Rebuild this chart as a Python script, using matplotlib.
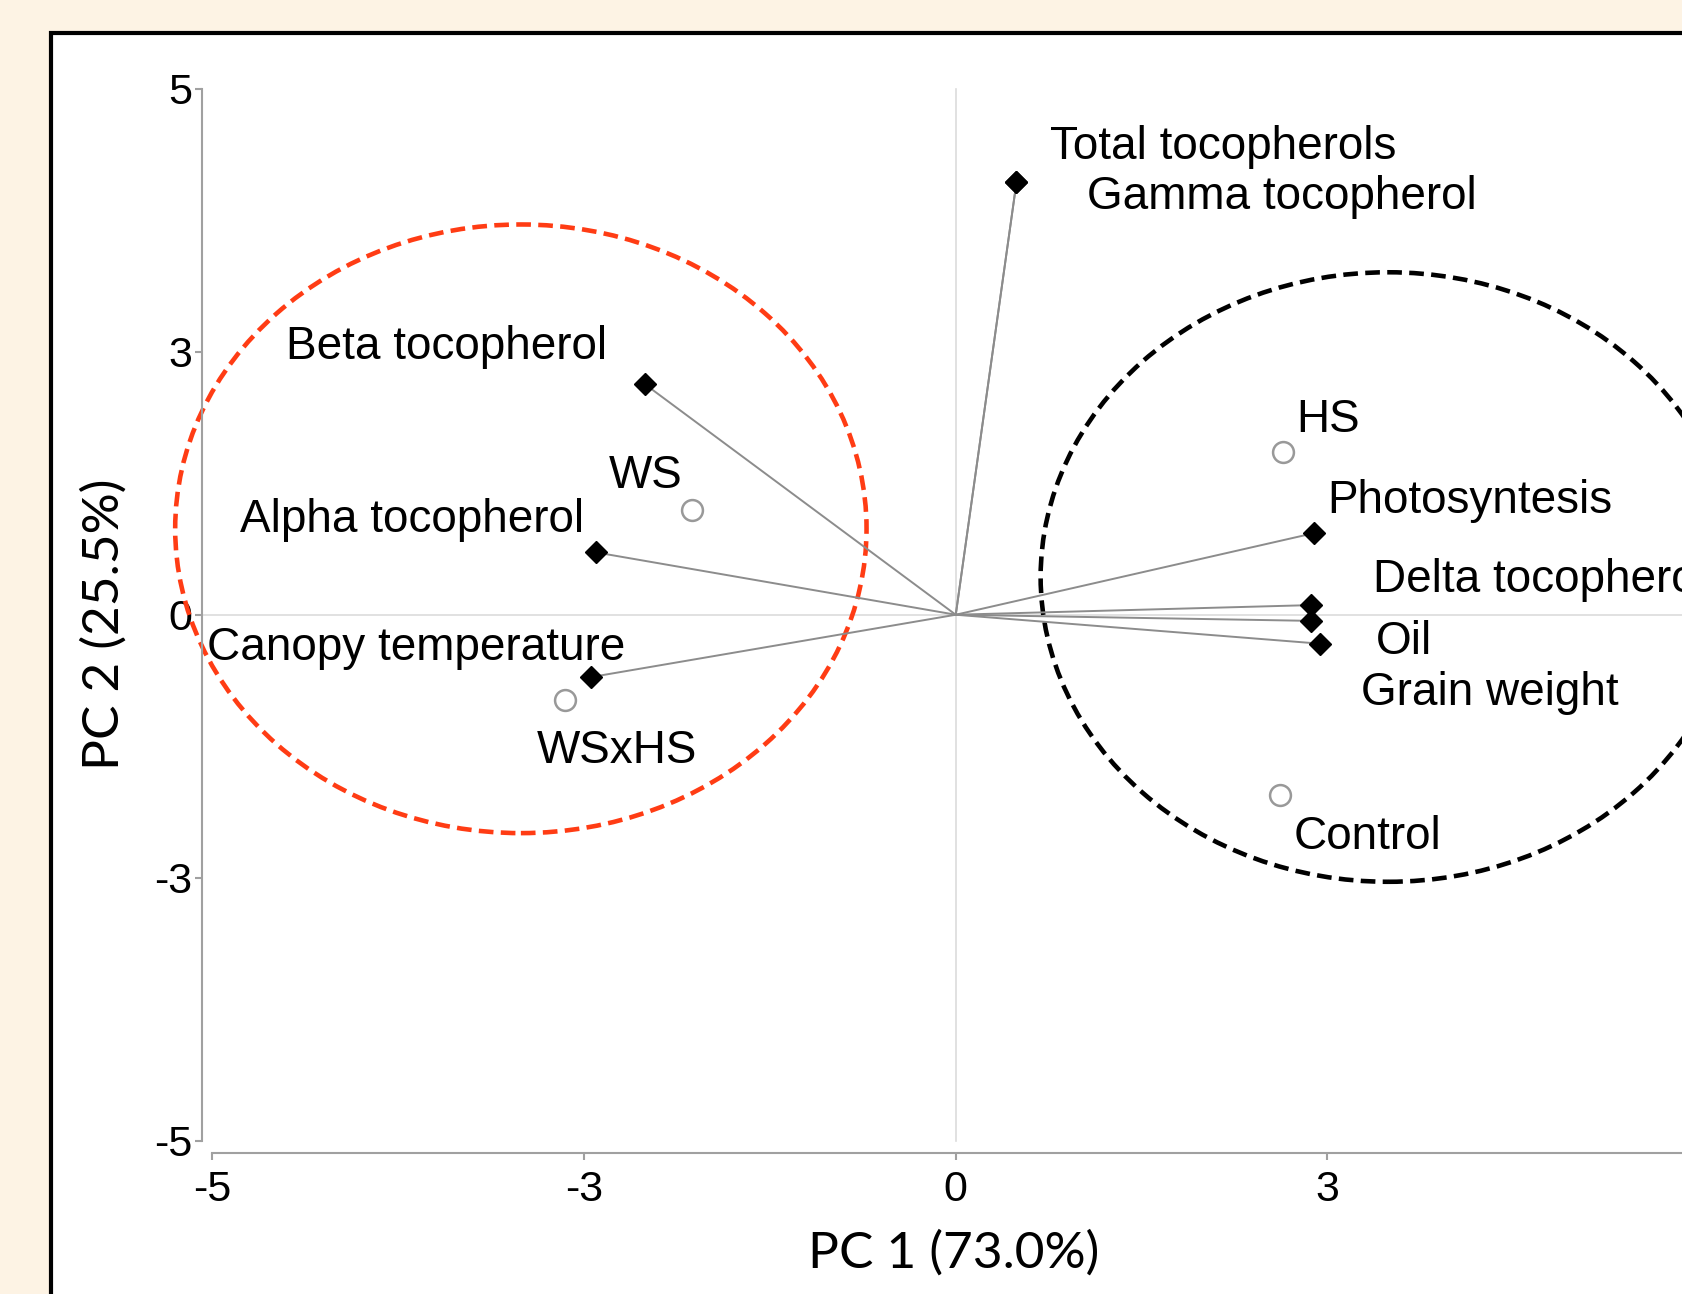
import numpy as np
import matplotlib
matplotlib.use("Agg")
import matplotlib.pyplot as plt
from matplotlib.patches import Ellipse, Rectangle

# variables (black diamonds, vectors from origin)
var_names = ["Total tocopherols", "Gamma tocopherol", "Beta tocopherol", "Alpha tocopherol",
             "Canopy temperature", "Photosyntesis", "Delta tocopherol", "Oil", "Grain weight"]
var_x = [0.49, 0.49, -2.51, -2.90, -2.94, 2.89, 2.87, 2.87, 2.94]
var_y = [4.93, 4.93, 2.63, 0.71, -0.71, 0.93, 0.11, -0.07, -0.33]

# treatments (open circles)
trt_names = ["HS", "WS", "WSxHS", "Control"]
trt_x = [2.64, -2.13, -3.15, 2.62]
trt_y = [1.86, 1.19, -0.97, -2.06]

# group ellipses: centre x, centre y, width, height
ell_cx = [-3.51, 3.49]
ell_cy = [0.98, 0.43]
ell_w = [5.58, 5.61]
ell_h = [6.94, 6.95]
ell_col = ["#ff3c14", "black"]

xtick_pos = [-6, -3, 0, 3]
xtick_lab = ["-5", "-3", "0", "3"]
ytick_pos = [-6, -3, 0, 3, 6]
ytick_lab = ["-5", "-3", "0", "3", "5"]

# label offsets in pixels (dx, dy up) from each mark
var_off = [(34, 35), (71, -15), (-359, 37), (-356, 32), (-384, 29), (13, 32), (62, 25), (65, -21), (41, -49)]
trt_off = [(13, 32), (-83, 34), (-29, -51), (13, -42)]

DPI = 100
fig = plt.figure(figsize=(16.82, 12.94), dpi=DPI, facecolor="#fdf3e4")
W, H = 1682, 1294
# white panel
fig.patches.append(Rectangle((51 / W, -0.1), 1.2, 1 - 33 / H + 0.1, transform=fig.transFigure,
                             facecolor="white", edgecolor="black", linewidth=3, zorder=-1))

ax = fig.add_axes([201.7 / W, 0.1090, 1560 / W, 0.8404])
ax.set_zorder(2)
ax.set_facecolor("none")
ax.set_xlim(-6.086, -6.086 + 1560 / 123.9)
ax.set_ylim(-6.137, -6.137 + 0.8404 * H / 87.7)

for s in ["top", "right"]:
    ax.spines[s].set_visible(False)
for s in ["left", "bottom"]:
    ax.spines[s].set_color("#a0a0a0")
    ax.spines[s].set_linewidth(1.5)
ax.spines["left"].set_bounds(-6, 6)
ax.spines["bottom"].set_bounds(-6, 7)

ax.set_xticks(xtick_pos, xtick_lab)
ax.set_yticks(ytick_pos, ytick_lab)
ax.tick_params(colors="#a0a0a0", labelcolor="black", length=5, width=1.5, labelsize=31)
ax.tick_params(axis="x", pad=7)
ax.tick_params(axis="y", pad=2)
for lab in ax.get_xticklabels() + ax.get_yticklabels():
    lab.set_fontfamily("Liberation Sans")

# reference lines
ax.plot([0, 0], [-6, 6], color="#dcdcdc", lw=1.2, zorder=1)
ax.plot([-6.1, 7], [0, 0], color="#dcdcdc", lw=1.2, zorder=1)

# ellipses
for cx, cy, w, h, c in zip(ell_cx, ell_cy, ell_w, ell_h, ell_col):
    ax.add_patch(Ellipse((cx, cy), w, h, fill=False, edgecolor=c, lw=3.3,
                         linestyle=(0, (3.2, 1.6)), zorder=2, clip_on=False))

# vectors
for x, y in zip(var_x, var_y):
    ax.plot([0, x], [0, y], color="#8c8c8c", lw=1.4, zorder=3)
ax.plot(var_x, var_y, "D", color="black", ms=11, zorder=4, linestyle="none")
ax.plot(trt_x, trt_y, "o", mfc="white", mec="#999999", mew=1.8, ms=15, zorder=4, linestyle="none")

k = 72.0 / DPI
for name, x, y, (dx, dy) in zip(var_names, var_x, var_y, var_off):
    ax.annotate(name, (x, y), xytext=(dx * k, dy * k), textcoords="offset points",
                ha="left", va="center", fontsize=33, family="Liberation Sans", zorder=5)
for name, x, y, (dx, dy) in zip(trt_names, trt_x, trt_y, trt_off):
    ax.annotate(name, (x, y), xytext=(dx * k, dy * k), textcoords="offset points",
                ha="left", va="center", fontsize=33, family="Liberation Sans", zorder=5)

fig.text(954 / W, 1 - 1253 / H, "PC 1 (73.0%)", ha="center", va="center", fontsize=37, family="Lato")
fig.text(104 / W, 1 - 624 / H, "PC 2 (25.5%)", ha="center", va="center", fontsize=37,
         family="Lato", rotation=90)

fig.savefig("out.png", dpi=DPI, facecolor=fig.get_facecolor())
